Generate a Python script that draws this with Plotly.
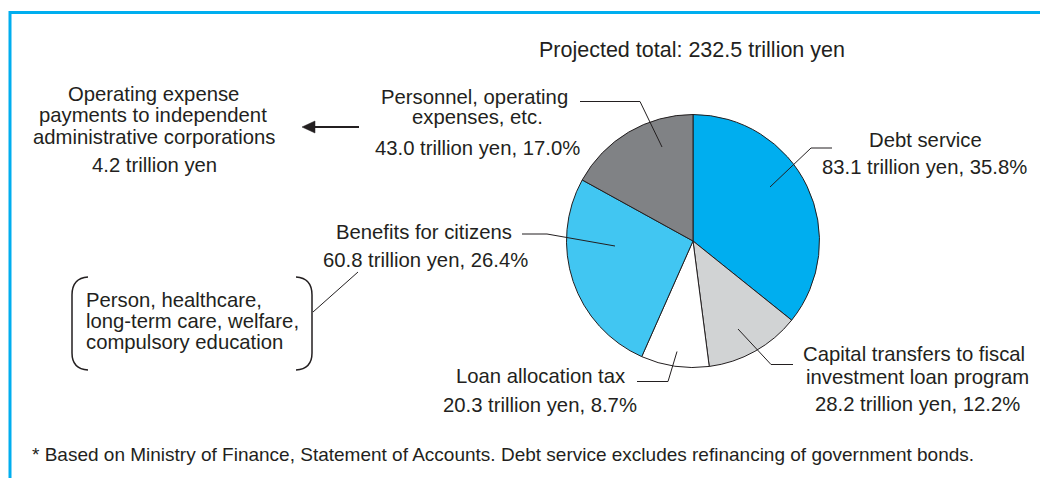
import plotly.graph_objects as go

# Budget breakdown (clockwise from 12 o'clock)
categories = [
    "Debt service",
    "Capital transfers to fiscal investment loan program",
    "Loan allocation tax",
    "Benefits for citizens",
    "Personnel, operating expenses, etc.",
]
amounts_tn_yen = [83.1, 28.2, 20.3, 60.8, 43.0]
shares_pct = [35.8, 12.2, 8.7, 26.4, 17.0]
slice_colors = ["#00AEEF", "#D1D3D4", "#FFFFFF", "#41C6F2", "#808285"]

total_tn_yen = 232.5
agency_payments_tn_yen = 4.2

W, H = 1040, 478
INK = "#231F20"
FRAME = "#00AEEF"
FONT = "Liberation Sans, Arial, sans-serif"

# pie placement in pixels
cx, cy, r = 693, 241, 126.5

fig = go.Figure()
fig.add_trace(go.Pie(
    labels=categories,
    values=shares_pct,
    sort=False,
    direction="clockwise",
    rotation=0,
    marker=dict(colors=slice_colors, line=dict(color=INK, width=1)),
    textinfo="none",
    hoverinfo="label+percent",
    showlegend=False,
    domain=dict(x=[(cx - r) / W, (cx + r) / W], y=[1 - (cy + r) / H, 1 - (cy - r) / H]),
))

# invisible pixel-unit axes for the callouts
fig.update_xaxes(range=[0, W], visible=False, fixedrange=True)
fig.update_yaxes(range=[H, 0], visible=False, fixedrange=True)
fig.add_trace(go.Scatter(x=[0, W], y=[0, H], mode="markers", marker=dict(opacity=0),
                         hoverinfo="skip", showlegend=False))

annotations = []


def label(text, x, y, anchor="center", size=20.3):
    annotations.append(dict(x=x, y=y, xref="x", yref="y", text=text, showarrow=False,
                            xanchor=anchor, yanchor="middle",
                            font=dict(family=FONT, size=size, color=INK)))


def amount_text(i):
    return f"{amounts_tn_yen[i]:.1f} trillion yen, {shares_pct[i]:.1f}%"


label(f"Projected total: {total_tn_yen} trillion yen", 692, 50, size=21.5)

# Debt service
label("Debt service", 925, 140)
label(amount_text(0), 924, 167)
# Capital transfers
label("Capital transfers to fiscal", 914, 354)
label("investment loan program", 917, 376.5)
label(amount_text(1), 917, 404)
# Loan allocation tax
label("Loan allocation tax", 540, 375.5)
label(amount_text(2), 540, 405)
# Benefits for citizens
label("Benefits for citizens", 424, 232)
label(amount_text(3), 425, 260)
label("Person, healthcare,", 83.5, 300, "left")
label("long-term care, welfare,", 83.5, 321, "left")
label("compulsory education", 83.5, 342, "left")
# Personnel
label("Personnel, operating", 474, 97)
label("expenses, etc.", 477, 117)
label(amount_text(4), 477, 147.5)
# Agency payments
label("Operating expense", 153, 94)
label("payments to independent", 153, 115)
label("administrative corporations", 154, 136.5)
label(f"{agency_payments_tn_yen} trillion yen", 154, 165)

# footnote
label("* Based on Ministry of Finance, Statement of Accounts. "
      "Debt service excludes refinancing of government bonds.", 30, 454.5, "left", size=19)

shapes = []


def polyline(pts, width=1):
    path = "M " + " L ".join(f"{x},{y}" for x, y in pts)
    shapes.append(dict(type="path", path=path, xref="x", yref="y",
                       line=dict(color=INK, width=width)))


# leader lines
polyline([(832, 148), (811, 148), (770, 187)])
polyline([(793, 364.5), (771, 364.5), (738, 329)])
polyline([(637, 381.5), (668, 381.5), (677, 351.5)])
polyline([(522, 234), (547, 234), (615, 246)])
polyline([(580, 101.5), (640, 101.5), (662, 147)])
polyline([(313, 312), (358, 272)])

# brackets around the benefits detail
shapes.append(dict(type="path", xref="x", yref="y", line=dict(color=INK, width=1.5),
                   path="M 88,277 Q 72,278 72,295 L 72,353 Q 72,369 88,370"))
shapes.append(dict(type="path", xref="x", yref="y", line=dict(color=INK, width=1.5),
                   path="M 296,277 Q 312,278 312,295 L 312,353 Q 312,369 296,370"))

# arrow pointing to the agency payments
shapes.append(dict(type="line", xref="x", yref="y", x0=312, y0=127, x1=359, y1=127,
                   line=dict(color=INK, width=1.8)))
shapes.append(dict(type="path", xref="x", yref="y", path="M 302,127 L 315,121 L 315,133 Z",
                   fillcolor=INK, line=dict(color=INK, width=0.5)))

# frame: top and left rules
shapes.append(dict(type="line", xref="x", yref="y", x0=9, y0=12.5, x1=W + 5, y1=12.5,
                   line=dict(color=FRAME, width=3)))
shapes.append(dict(type="line", xref="x", yref="y", x0=10, y0=11, x1=10, y1=H + 5,
                   line=dict(color=FRAME, width=3)))

fig.update_layout(
    width=W, height=H,
    margin=dict(l=0, r=0, t=0, b=0),
    paper_bgcolor="white", plot_bgcolor="white",
    annotations=annotations, shapes=shapes,
    showlegend=False,
)

fig.write_html("out.html", config={"displayModeBar": False})
